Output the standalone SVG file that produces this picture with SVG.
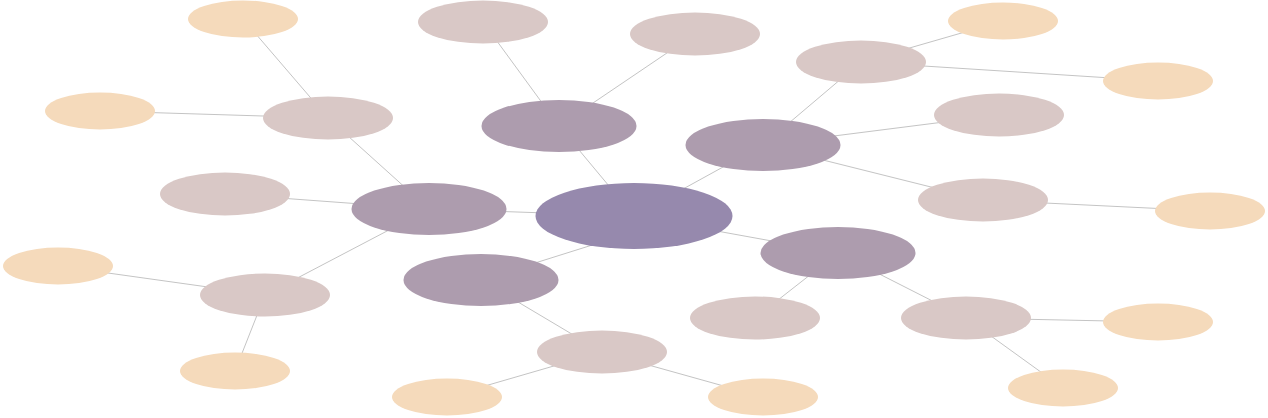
<svg xmlns="http://www.w3.org/2000/svg" width="1268" height="418" viewBox="0 0 1268 418">
<style>
.l{stroke:#c4c4c4;stroke-width:1;fill:none}
.c0{fill:#9689ad}
.c1{fill:#ad9cae}
.c2{fill:#d9c8c6}
.c3{fill:#f5dabb}
</style>
<rect width="1268" height="418" fill="#fff"/>
<g id="connectors" class="l">
<line x1="634" y1="216" x2="559" y2="126"/>
<line x1="634" y1="216" x2="763" y2="145"/>
<line x1="634" y1="216" x2="429" y2="209"/>
<line x1="634" y1="216" x2="838" y2="253"/>
<line x1="640" y1="230" x2="481" y2="280"/>
<line x1="559" y1="126" x2="483" y2="22"/>
<line x1="559" y1="126" x2="695" y2="34"/>
<line x1="763" y1="145" x2="861" y2="62"/>
<line x1="763" y1="145" x2="999" y2="115"/>
<line x1="763" y1="145" x2="983" y2="200"/>
<line x1="429" y1="209" x2="328" y2="118"/>
<line x1="429" y1="209" x2="225" y2="194"/>
<line x1="429" y1="209" x2="265" y2="295"/>
<line x1="838" y1="253" x2="755" y2="318"/>
<line x1="838" y1="253" x2="966" y2="318"/>
<line x1="481" y1="280" x2="602" y2="352"/>
<line x1="861" y1="62" x2="1003" y2="21"/>
<line x1="861" y1="62" x2="1158" y2="81"/>
<line x1="983" y1="200" x2="1210" y2="211"/>
<line x1="328" y1="118" x2="243" y2="19"/>
<line x1="328" y1="118" x2="100" y2="111"/>
<line x1="265" y1="295" x2="58" y2="266"/>
<line x1="265" y1="295" x2="235" y2="371"/>
<line x1="966" y1="318" x2="1158" y2="322"/>
<line x1="966" y1="318" x2="1063" y2="388"/>
<line x1="602" y1="352" x2="447" y2="397"/>
<line x1="602" y1="352" x2="763" y2="397"/>
</g>
<g id="center"><ellipse class="c0" cx="634" cy="216" rx="98.5" ry="33"/></g>
<g id="n1a"><ellipse class="c1" cx="559" cy="126" rx="77.5" ry="26"/></g>
<g id="n1b"><ellipse class="c1" cx="763" cy="145" rx="77.5" ry="26"/></g>
<g id="n1c"><ellipse class="c1" cx="429" cy="209" rx="77.5" ry="26"/></g>
<g id="n1d"><ellipse class="c1" cx="838" cy="253" rx="77.5" ry="26"/></g>
<g id="n1e"><ellipse class="c1" cx="481" cy="280" rx="77.5" ry="26"/></g>
<g id="n2a1"><ellipse class="c2" cx="483" cy="22" rx="65" ry="21.5"/></g>
<g id="n2a2"><ellipse class="c2" cx="695" cy="34" rx="65" ry="21.5"/></g>
<g id="n2b1"><ellipse class="c2" cx="861" cy="62" rx="65" ry="21.5"/></g>
<g id="n2b2"><ellipse class="c2" cx="999" cy="115" rx="65" ry="21.5"/></g>
<g id="n2b3"><ellipse class="c2" cx="983" cy="200" rx="65" ry="21.5"/></g>
<g id="n2c1"><ellipse class="c2" cx="328" cy="118" rx="65" ry="21.5"/></g>
<g id="n2c2"><ellipse class="c2" cx="225" cy="194" rx="65" ry="21.5"/></g>
<g id="n2c3"><ellipse class="c2" cx="265" cy="295" rx="65" ry="21.5"/></g>
<g id="n2d1"><ellipse class="c2" cx="755" cy="318" rx="65" ry="21.5"/></g>
<g id="n2d2"><ellipse class="c2" cx="966" cy="318" rx="65" ry="21.5"/></g>
<g id="n2e1"><ellipse class="c2" cx="602" cy="352" rx="65" ry="21.5"/></g>
<g id="n3a"><ellipse class="c3" cx="1003" cy="21" rx="55" ry="18.5"/></g>
<g id="n3b"><ellipse class="c3" cx="1158" cy="81" rx="55" ry="18.5"/></g>
<g id="n3c"><ellipse class="c3" cx="1210" cy="211" rx="55" ry="18.5"/></g>
<g id="n3d"><ellipse class="c3" cx="243" cy="19" rx="55" ry="18.5"/></g>
<g id="n3e"><ellipse class="c3" cx="100" cy="111" rx="55" ry="18.5"/></g>
<g id="n3f"><ellipse class="c3" cx="58" cy="266" rx="55" ry="18.5"/></g>
<g id="n3g"><ellipse class="c3" cx="235" cy="371" rx="55" ry="18.5"/></g>
<g id="n3h"><ellipse class="c3" cx="1158" cy="322" rx="55" ry="18.5"/></g>
<g id="n3i"><ellipse class="c3" cx="1063" cy="388" rx="55" ry="18.5"/></g>
<g id="n3j"><ellipse class="c3" cx="447" cy="397" rx="55" ry="18.5"/></g>
<g id="n3k"><ellipse class="c3" cx="763" cy="397" rx="55" ry="18.5"/></g>
</svg>
